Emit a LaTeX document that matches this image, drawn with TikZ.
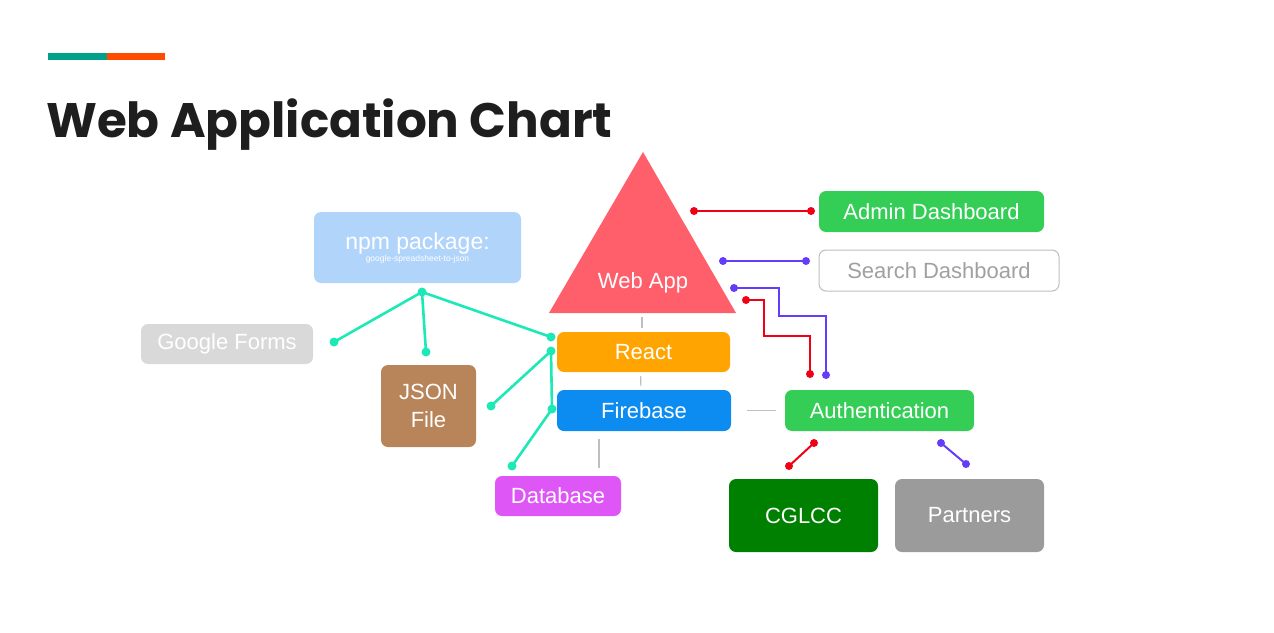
\documentclass[tikz,border=0pt]{standalone}
\usepackage{fontspec}
\setmainfont{Liberation Sans}
\newfontfamily\titlefont{Poppins}
\usepackage{tikz}
\usetikzlibrary{arrows.meta,positioning,calc}
\usepackage{xcolor}
\definecolor{barteal}{RGB}{0, 160, 138}
\definecolor{barorange}{RGB}{255, 75, 0}
\definecolor{titleblack}{RGB}{30, 30, 30}
\definecolor{trired}{RGB}{255, 95, 106}
\definecolor{boxgreen}{RGB}{52, 206, 87}
\definecolor{boxorange}{RGB}{255, 164, 0}
\definecolor{boxblue}{RGB}{12, 140, 240}
\definecolor{boxmagenta}{RGB}{222, 87, 246}
\definecolor{boxbrown}{RGB}{184, 132, 90}
\definecolor{boxsky}{RGB}{176, 212, 250}
\definecolor{boxlight}{RGB}{217, 217, 217}
\definecolor{boxdark}{RGB}{0, 128, 0}
\definecolor{boxgray}{RGB}{155, 155, 155}
\definecolor{searchgray}{RGB}{160, 160, 160}
\definecolor{linkteal}{RGB}{29, 233, 182}
\definecolor{linkred}{RGB}{240, 0, 20}
\definecolor{linkpurple}{RGB}{100, 60, 250}
\definecolor{tiegray}{RGB}{190, 190, 190}

\tikzset{
  box/.style={rounded corners=7pt, text=white, inner sep=0pt, align=center,
    font=\fontsize{22}{28}\selectfont},
  dot/.style={circle, fill, inner sep=0pt, minimum size=8pt},
  tie/.style={draw=tiegray, line width=1.2pt},
}

\begin{document}
\begin{tikzpicture}[x=1pt,y=-1pt]
    \useasboundingbox (0,0) rectangle (1274,632);

    % Title
    \fill[barteal] (48,53) rectangle (107,60);
    \fill[barorange] (107,53) rectangle (165,60);
    \node[anchor=base west, inner sep=0pt, text=titleblack,
      font=\titlefont\bfseries\fontsize{48.4}{58}\selectfont] (title) at (46,137) {Web Application Chart};

    % Web app triangle
    \coordinate (apex) at (643,152);
    \coordinate (tribase) at (642,313);
    \fill[trired] (apex) -- (736,313) -- (549,313) -- cycle;
    \node[text=white, font=\fontsize{22}{28}\selectfont] (webapp) at (643,283) {Web App};

    % Boxes
    \node[box, fill=boxgreen, minimum width=225pt, minimum height=41pt] (admin) at (931.5,211.5) {Admin Dashboard};
    \node[box, fill=white, draw=tiegray, line width=1pt, text=searchgray,
      minimum width=240pt, minimum height=41pt] (search) at (939,270.5) {Search Dashboard};
    \node[box, fill=boxsky, minimum width=207pt, minimum height=71pt] (npm) at (417.5,247.5) {};
    \node[anchor=base, text=white, font=\fontsize{23}{28}\selectfont] (npmname) at (417.5,249) {npm package:};
    \node[anchor=base, text=white, font=\fontsize{8.5}{10}\selectfont] (npmsub) at (417.5,261) {google-spreadsheet-to-json};
    \node[box, fill=boxlight, minimum width=172pt, minimum height=40pt] (forms) at (227,344) {Google Forms};
    \node[box, fill=boxbrown, minimum width=95pt, minimum height=82pt] (json) at (428.5,406) {JSON\\File};
    \node[box, fill=boxorange, minimum width=173pt, minimum height=40pt] (react) at (643.5,352) {React};
    \node[box, fill=boxblue, minimum width=174pt, minimum height=41pt] (firebase) at (644,410.5) {Firebase};
    \node[box, fill=boxgreen, minimum width=189pt, minimum height=41pt] (auth) at (879.5,410.5) {Authentication};
    \node[box, fill=boxmagenta, minimum width=126pt, minimum height=40pt] (database) at (558,496) {Database};
    \node[box, fill=boxdark, minimum width=149pt, minimum height=73pt] (cglcc) at (803.5,515.5) {CGLCC};
    \node[box, fill=boxgray, minimum width=149pt, minimum height=73pt] (partners) at (969.5,515.5) {Partners};

    % Gray ties
    \draw[tie, shorten <=4pt, shorten >=4pt] (tribase) -- (react.north -| tribase);
    \draw[tie, shorten <=4pt, shorten >=4pt] ([xshift=-3pt]react.south) -- ([xshift=-3pt]firebase.north);
    \draw[tie, shorten <=16pt, shorten >=9pt] (firebase.east) -- (auth.west);
    \draw[tie] ([xshift=-45pt,yshift=-8pt]firebase.south) -- ([xshift=41pt,yshift=8pt]database.north);

    % Teal links
    \coordinate (hub) at (422,292);
    \coordinate (toforms) at (334,342);
    \coordinate (tojson) at (426,352);
    \coordinate (toreact) at (551,337);
    \coordinate (fromreact) at (551,351);
    \coordinate (jsonend) at (491,406);
    \coordinate (tofire) at (552,409);
    \coordinate (todb) at (512,466);
    \begin{scope}[linkteal, line width=2.6pt]
      \draw (hub) -- (toforms);
      \draw (hub) -- (tojson);
      \draw (hub) -- (toreact);
      \draw (fromreact) -- (jsonend);
      \draw (fromreact) -- (tofire);
      \draw (tofire) -- (todb);
      \foreach \p in {hub,toforms,tojson,toreact,fromreact,jsonend,tofire,todb}
        \node[dot, minimum size=9pt] at (\p) {};
    \end{scope}

    % Red and purple links
    \coordinate (adminA) at (694,211);
    \coordinate (adminB) at (811,211);
    \coordinate (searchA) at (723,261);
    \coordinate (searchB) at (806,261);
    \coordinate (purA) at (734,288);
    \coordinate (purB) at (826,375);
    \coordinate (redA) at (746,300);
    \coordinate (redB) at (810,374);
    \coordinate (cglA) at (814,443);
    \coordinate (cglB) at (789,466);
    \coordinate (parA) at (941,443);
    \coordinate (parB) at (966,464);
    \begin{scope}[linkred, line width=2pt]
      \draw (adminA) -- (adminB);
      \draw (redA) -| (764,336) -| (redB);
      \draw (cglA) -- (cglB);
      \foreach \p in {adminA,adminB,redA,redB,cglA,cglB}
        \node[dot] at (\p) {};
    \end{scope}
    \begin{scope}[linkpurple, line width=2pt]
      \draw (searchA) -- (searchB);
      \draw (purA) -| (779,316) -| (purB);
      \draw (parA) -- (parB);
      \foreach \p in {searchA,searchB,purA,purB,parA,parB}
        \node[dot] at (\p) {};
    \end{scope}
\end{tikzpicture}
\end{document}
